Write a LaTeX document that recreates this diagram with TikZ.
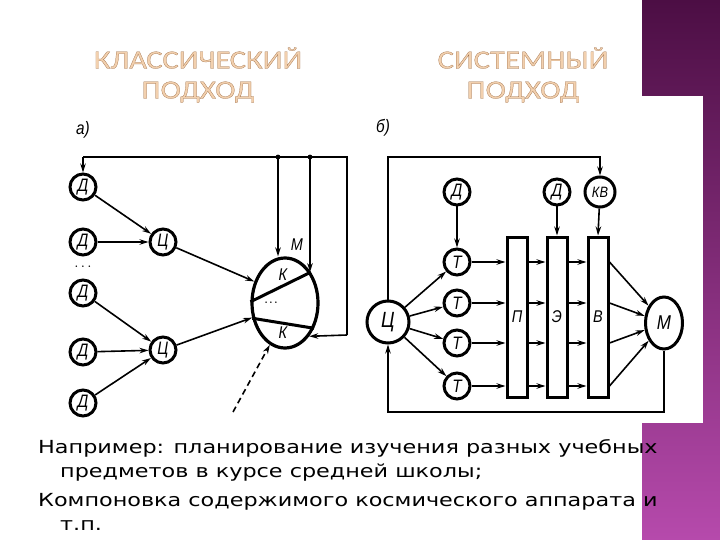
\documentclass[tikz,border=0pt]{standalone}
\usepackage{fontspec}
\usepackage{xcolor}
\usetikzlibrary{arrows.meta, positioning, calc, shapes.geometric}
\newfontfamily\bodyfont[FakeStretch=1.24]{DejaVu Sans}
\newfontfamily\titlefont[FakeStretch=1.18,FakeBold=0.8]{Carlito}
\newfontfamily\lblfont[FakeStretch=0.85]{Liberation Sans}
\definecolor{slidedark}{RGB}{76,14,68}
\definecolor{slidelight}{RGB}{182,74,172}
\definecolor{titlefill}{RGB}{242,208,174}
\tikzset{
  circ/.style={circle, draw, line width=3pt, inner sep=0pt, minimum size=26pt, font=\lblfont\itshape\fontsize{18}{18}\selectfont},
  bar/.style={rectangle, draw, line width=3pt, minimum width=20pt, minimum height=160pt, inner sep=0pt, font=\lblfont\itshape\fontsize{17}{17}\selectfont},
  arr/.style={-{Stealth[length=9pt,width=5.5pt]}, line width=1.6pt},
  lbl/.style={inner sep=0pt, font=\lblfont\itshape\fontsize{17}{17}\selectfont},
  ttl/.style={align=center, inner sep=0pt, text=titlefill, font=\titlefont\fontsize{26}{30}\selectfont},
  body/.style={anchor=north west, align=left, inner sep=0pt, font=\bodyfont\fontsize{18}{24.5}\selectfont}
}
\begin{document}
\begin{tikzpicture}[x=1pt, y=-1pt]
\useasboundingbox (0,0) rectangle (720,540);
\fill[white] (0,0) rectangle (720,540);
\shade[top color=slidedark, bottom color=slidelight] (642,0) rectangle (720,540);
\fill[white] (600,96) rectangle (703,423);

\node[ttl] (tclass) at (198,75) {\special{pdf:code 0.60 0.40 0.24 RG}КЛАССИЧЕСКИЙ\\ПОДХОД};
\node[ttl] (tsys) at (523,75) {\special{pdf:code 0.60 0.40 0.24 RG}СИСТЕМНЫЙ\\ПОДХОД};

\node[lbl, font=\lblfont\itshape\fontsize{18}{18}\selectfont] (laba) at (83,130) {а)};
\node[circ] (da1) at (83,187) {Д};
\node[circ] (da2) at (83,242) {Д};
\node[circ] (da3) at (83,293) {Д};
\node[circ] (da4) at (83,352) {Д};
\node[circ] (da5) at (83,403) {Д};
\node[lbl, font=\bfseries] (dotsa) at (83,267) {.\,\,.\,\,.};
\node[circ] (ca1) at (163,242) {Ц};
\node[circ] (ca2) at (163,350) {Ц};
\node[ellipse, draw, line width=3.2pt, minimum width=66pt, minimum height=90pt, inner sep=0pt] (ma) at (285,303) {};
\draw[line width=3pt] (ma.178) -- (ma.50);
\draw[line width=3pt] (ma.205) -- (ma.-41);
\node[lbl] (mla) at (297,245) {М};
\node[lbl] (ka1) at (283,275) {К};
\node[lbl] (ka2) at (283,333) {К};
\node[lbl, font=\bfseries] (dotsm) at (271,303) {.\,.\,.};
\coordinate (la) at (83,157);
\coordinate (ja) at (278,157);
\coordinate (jb) at (310,157);
\coordinate (ra) at (347,157);
\coordinate (rb) at (347,335);
\draw[line width=1.6pt] (la) -- (ra) -- (rb);
\draw[arr] (rb) -- (ma.-54);
\draw[arr] (la) -- (da1);
\draw[arr] (ja) -- (ja |- ma.north);
\draw[arr] (jb) -- (jb |- ma.50);
\fill (ja) circle (2.4pt);
\fill (jb) circle (2.4pt);
\draw[arr] (da1) -- (ca1);
\draw[arr] (da2) -- (ca1);
\draw[arr] (ca1) -- (ma.145);
\draw[arr] (da3) -- (ca2);
\draw[arr] (da4) -- (ca2);
\draw[arr] (da5) -- (ca2);
\draw[arr] (ca2) -- (ma.204);
\coordinate (exta) at (233,412);
\draw[arr, dash pattern=on 6pt off 4pt] (exta) -- (ma.250);

\node[lbl, font=\lblfont\itshape\fontsize{18}{18}\selectfont] (labb) at (383,128) {б)};
\node[circ, minimum size=42pt, font=\lblfont\itshape\fontsize{22}{22}\selectfont] (cb) at (388,322) {Ц};
\node[ellipse, draw, line width=3pt, minimum width=37pt, minimum height=52pt, inner sep=0pt, font=\lblfont\itshape\fontsize{20}{20}\selectfont] (mb) at (664,323) {М};
\node[circ] (tb1) at (457,262) {Т};
\node[circ] (tb2) at (457,303) {Т};
\node[circ] (tb3) at (457,343) {Т};
\node[circ] (tb4) at (457,386) {Т};
\node[circ] (db1) at (457,192) {Д};
\node[circ] (db2) at (557,192) {Д};
\node[circ, minimum size=30pt, font=\lblfont\itshape\fontsize{15}{15}\selectfont] (kv) at (600,192) {КВ};
\node[bar] (pb) at (517,317) {П};
\node[bar] (eb) at (557,317) {Э};
\node[bar] (vb) at (598,317) {В};
\coordinate (topb) at (388,157);
\coordinate (lowb) at (0,412);
\draw[arr] (cb.north) -- (topb) -| (kv.north);
\draw[arr] (mb.south) -- (mb.south |- lowb) -| (cb.south);
\draw[arr] (db1) -- (tb1);
\draw[arr] (db2) -- (eb.north);
\draw[arr] (kv) -- (vb.north);
\foreach \i in {1,...,4} {
  \draw[arr] (cb) -- (tb\i);
  \draw[arr] (tb\i) -- (tb\i -| pb.west);
  \draw[arr] (tb\i -| pb.east) -- (tb\i -| eb.west);
  \draw[arr] (tb\i -| eb.east) -- (tb\i -| vb.west);
  \draw[arr] (tb\i -| vb.east) -- (mb);
}

\node[body] (ex1) at (38,439) {Например: планирование изучения разных учебных\\\hspace*{22pt}предметов в курсе средней школы;};
\node[body] (ex2) at (38,493) {Компоновка содержимого космического аппарата и\\\hspace*{22pt}т.п.};
\end{tikzpicture}
\end{document}
